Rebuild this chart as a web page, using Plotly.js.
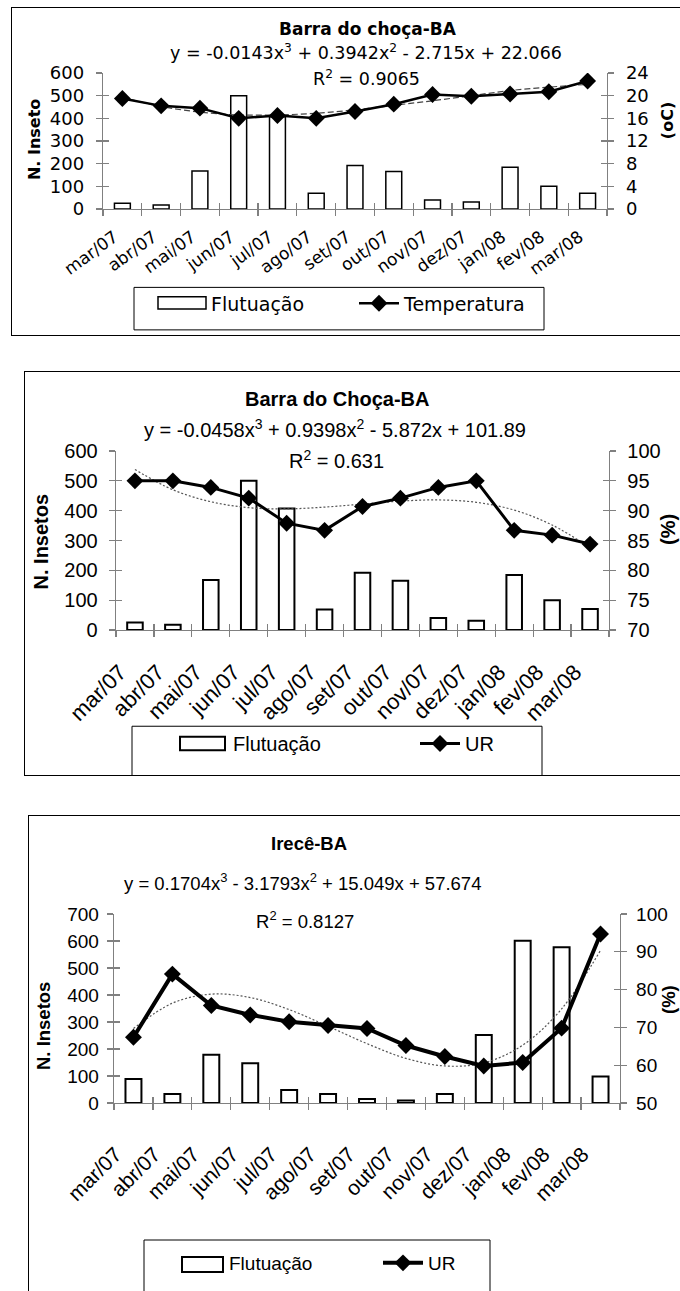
<!DOCTYPE html>
<html>
<head>
<meta charset="utf-8">
<script src="https://cdn.plot.ly/plotly-3.0.1.min.js"></script>
<style>
html,body{margin:0;padding:0;background:#fff;width:680px;height:1291px;overflow:hidden;position:relative;}
.panel{position:absolute;border:1px solid #000;background:#fff;overflow:hidden;}
</style>
</head>
<body>
<div id="w1" class="panel"><div id="p1"></div></div>
<div id="w2" class="panel"><div id="p2"></div></div>
<div id="w3" class="panel"><div id="p3"></div></div>
<script>
// ---- data ----
const months = ['mar/07','abr/07','mai/07','jun/07','jul/07','ago/07','set/07','out/07','nov/07','dez/07','jan/08','fev/08','mar/08'];
const barraInsetos = [25,18,168,500,407,69,192,165,40,31,184,100,70];
const barraTemperatura = [19.5,18.2,17.8,16.0,16.5,16.0,17.2,18.5,20.2,19.9,20.3,20.7,22.6];
const barraTempTendencia = [19.7,18.1,17.1,16.6,16.6,16.9,17.5,18.3,19.1,20.0,20.9,21.5,22.0];
const barraUR = [95.0,95.0,93.9,92.1,87.9,86.7,90.7,92.1,93.9,95.0,86.7,85.9,84.4];
const barraURTendencia = [96.9,93.5,91.5,90.5,90.3,90.6,91.1,91.6,91.8,91.4,90.1,87.6,83.8];
const ireceInsetos = [89,33,179,147,48,33,15,9,33,252,601,577,98];
const ireceUR = [67.4,84.1,75.8,73.3,71.5,70.5,69.7,65.2,62.3,59.8,60.7,69.8,94.7];
const ireceURTendencia = [69.7,76.4,78.8,77.9,74.7,70.3,65.7,61.8,59.8,60.6,65.3,74.9,90.4];

const titles = ['Barra do choça-BA','Barra do Choça-BA','Irecê-BA'];
const equations = [
  'y = -0.0143x<sup>3</sup> + 0.3942x<sup>2</sup> - 2.715x + 22.066',
  'y = -0.0458x<sup>3</sup> + 0.9398x<sup>2</sup> - 5.872x + 101.89',
  'y = 0.1704x<sup>3</sup> - 3.1793x<sup>2</sup> + 15.049x + 57.674'
];
const r2Labels = ['R<sup>2</sup> = 0.9065','R<sup>2</sup> = 0.631','R<sup>2</sup> = 0.8127'];
const leftTitles = ['N. Inseto','N. Insetos','N. Insetos'];
const rightTitles = ['(oC)','(%)','(%)'];
const barName = 'Flutuação';
const lineNames = ['Temperatura','UR','UR'];

const GRAY = '#808080';

function panel(c){
  const L=c.plot[0], R=c.plot[1], T=c.plot[2], B=c.plot[3];
  const ox=c.box[0]+1, oy=c.box[1]+1;
  const fx=x=>(x-L)/(R-L), fy=y=>(B-y)/(B-T);
  const wrap=document.getElementById(c.wrap);
  wrap.style.left=c.box[0]+'px'; wrap.style.top=c.box[1]+'px';
  wrap.style.width=c.w+'px'; wrap.style.height=c.h+'px';
  const nulls=c.x.map(()=>null);
  const data=[
    {type:'bar',x:c.x,y:c.bars,name:barName,xaxis:'x',yaxis:'y',showlegend:false,
     marker:{color:'#ffffff',line:{color:'#000',width:c.barLine}}},
    // legend entry for the bars (its symbol is drawn as a wide box shape below)
    {type:'bar',x:c.x,y:nulls,name:barName,xaxis:'x',yaxis:'y',
     marker:{color:'rgba(0,0,0,0)',line:{color:'rgba(0,0,0,0)',width:0}}},
    {type:'scatter',mode:'lines',x:c.x,y:c.trend,xaxis:'x',yaxis:'y2',showlegend:false,
     line:{color:c.trendColor,width:1.2,dash:c.trendDash,shape:'spline'}},
    {type:'scatter',mode:'lines+markers',x:c.x,y:c.line,name:c.lineName,xaxis:'x',yaxis:'y2',
     line:{color:'#000',width:c.lineW},marker:{symbol:'diamond',size:c.mSize,color:'#000'}},
    {type:'scatter',mode:'markers',x:c.x,y:nulls,xaxis:'x2',yaxis:'y3',showlegend:false},
    {type:'scatter',mode:'markers',x:c.x,y:nulls,xaxis:'x2',yaxis:'y4',showlegend:false},
    {type:'scatter',mode:'markers',x:c.x,y:nulls,xaxis:'x3',yaxis:'y3',showlegend:false}
  ];
  const tf={family:c.font,size:c.tickSize,color:'#000'};
  const common={showgrid:false,zeroline:false,fixedrange:true};
  const ann=(x,y,text,font,extra)=>Object.assign({xref:'paper',yref:'paper',x:fx(x),y:fy(y),
     text:text,showarrow:false,font:font,xanchor:'center',yanchor:'middle'},extra||{});
  const catW=(R-L)/c.x.length, sh=c.labelShift/catW;
  const layout={
    width:c.w,height:c.h,autosize:false,
    margin:{l:L-ox,r:ox+c.w-R,t:T-oy,b:oy+c.h-B,pad:0},
    paper_bgcolor:'#fff',plot_bgcolor:'rgba(0,0,0,0)',
    barmode:'overlay',bargap:0.59,
    showlegend:true,
    xaxis:Object.assign({},common,{type:'category',categoryorder:'array',categoryarray:c.x,range:[-0.5,12.5],
      tickson:'boundaries',ticks:'outside',ticklen:6,tickcolor:GRAY,tickwidth:1.2,
      showline:true,linecolor:GRAY,linewidth:1.3,showticklabels:false}),
    xaxis2:Object.assign({},common,{type:'category',categoryorder:'array',categoryarray:c.x,range:[-0.5,12.5],
      overlaying:'x',anchor:'y',tickson:'boundaries',ticks:'inside',ticklen:6,tickcolor:GRAY,tickwidth:1.2,
      showticklabels:false,showline:false}),
    xaxis3:Object.assign({},common,{type:'category',categoryorder:'array',categoryarray:c.x,
      range:[-0.5+sh,12.5+sh],overlaying:'x',anchor:'y',ticks:'',showline:false,
      tickangle:c.xAngle,tickfont:{family:c.font,size:c.xTickSize,color:'#000'},ticklabelstandoff:c.xStandoff}),
    yaxis:Object.assign({},common,{range:c.yRange,tick0:c.yRange[0],dtick:c.yDtick,ticks:'outside',ticklen:6,
      tickcolor:GRAY,tickwidth:1.2,showline:true,linecolor:GRAY,linewidth:1.3,tickfont:tf,ticklabelstandoff:c.yStandoff}),
    yaxis2:Object.assign({},common,{overlaying:'y',side:'right',anchor:'x',range:c.y2Range,tick0:c.y2Range[0],
      dtick:c.y2Dtick,ticks:'outside',ticklen:6,tickcolor:GRAY,tickwidth:1.2,showline:true,linecolor:GRAY,
      linewidth:1.3,tickfont:tf,ticklabelstandoff:c.y2Standoff}),
    yaxis3:Object.assign({},common,{overlaying:'y',side:'left',anchor:'x',range:c.yRange,tick0:c.yRange[0],
      dtick:c.yDtick,ticks:'inside',ticklen:6,tickcolor:GRAY,tickwidth:1.2,showticklabels:false,showline:false}),
    yaxis4:Object.assign({},common,{overlaying:'y',side:'right',anchor:'x',range:c.y2Range,tick0:c.y2Range[0],
      dtick:c.y2Dtick,ticks:'inside',ticklen:6,tickcolor:GRAY,tickwidth:1.2,showticklabels:false,showline:false}),
    legend:{orientation:'h',x:fx(c.leg[0]),y:fy(c.leg[1]),xanchor:'left',yanchor:'middle',
      borderwidth:0,bgcolor:'rgba(0,0,0,0)',font:{family:c.font,size:c.legSize,color:'#000'},
      entrywidth:c.legEntry,entrywidthmode:'pixels',itemwidth:40,traceorder:'normal'},
    shapes:[
      {type:'rect',xref:'paper',yref:'paper',layer:'below',
       x0:fx(c.legBox[0]),x1:fx(c.legBox[1]),y0:fy(c.legBox[2]),y1:fy(c.legBox[3]),
       line:{color:'#000',width:1},fillcolor:'#fff'},
      {type:'rect',xref:'paper',yref:'paper',layer:'above',
       x0:fx(c.legSym[0]),x1:fx(c.legSym[1]),y0:fy(c.legSym[2]),y1:fy(c.legSym[3]),
       line:{color:'#000',width:c.barLine},fillcolor:'#fff'}
    ],
    annotations:[
      ann(c.tPos[0],c.tPos[1],c.title,{family:c.font,size:c.titleSize,color:'#000',weight:'bold'}),
      ann(c.ePos[0],c.ePos[1],c.eq,{family:c.font,size:c.eqSize,color:'#000'}),
      ann(c.rPos[0],c.rPos[1],c.r2,{family:c.font,size:c.eqSize,color:'#000'}),
      ann(c.lPos[0],c.lPos[1],c.lTitle,{family:c.font,size:c.axSize,color:'#000',weight:'bold'},{textangle:-90}),
      ann(c.rtPos[0],c.rtPos[1],c.rTitle,{family:c.font,size:c.axSize,color:'#000',weight:'bold'},{textangle:-90})
    ]
  };
  Plotly.newPlot(c.div,data,layout,{staticPlot:true,displayModeBar:false});
}

const F1='DejaVu Sans, Verdana, sans-serif';
const F2='Liberation Sans, Arial, sans-serif';

panel({wrap:'w1',div:'p1',box:[11,7],w:700,h:327,plot:[103,607,73,217],
  x:months,bars:barraInsetos,line:barraTemperatura,trend:barraTempTendencia,lineName:lineNames[0],
  yRange:[0,600],yDtick:100,y2Range:[0,24],y2Dtick:4,
  font:F1,tickSize:18,xTickSize:17,xAngle:-36,xStandoff:14,labelShift:8,yStandoff:8,y2Standoff:8,
  barLine:1.5,lineW:2.5,mSize:13,trendColor:'#444',trendDash:'6px,3px',
  title:titles[0],eq:equations[0],r2:r2Labels[0],lTitle:leftTitles[0],rTitle:rightTitles[0],
  titleSize:17,eqSize:17.5,axSize:16,legSize:19,
  tPos:[368,26],ePos:[366,51],rPos:[366,78],lPos:[34,144],rtPos:[667,124],
  leg:[161,317],legEntry:138,legBox:[134,544,300,345],legSym:[158,206,310,323]});

panel({wrap:'w2',div:'p2',box:[24,371],w:700,h:403,plot:[116,609,451,637],
  x:months,bars:barraInsetos,line:barraUR,trend:barraURTendencia,lineName:lineNames[1],
  yRange:[0,600],yDtick:100,y2Range:[70,100],y2Dtick:5,
  font:F2,tickSize:20,xTickSize:22,xAngle:-45,xStandoff:24,labelShift:15,yStandoff:7,y2Standoff:7,
  barLine:2,lineW:3,mSize:13,trendColor:'#555',trendDash:'2px,2px',
  title:titles[1],eq:equations[1],r2:r2Labels[1],lTitle:leftTitles[1],rTitle:rightTitles[1],
  titleSize:20,eqSize:20,axSize:20,legSize:20,
  tPos:[337,397],ePos:[335,428],rPos:[336,460],lPos:[41,545],rtPos:[668,533],
  leg:[183,755],legEntry:177,legBox:[132,542,737,790],legSym:[180,225,748,762]});

panel({wrap:'w3',div:'p3',box:[28,815],w:700,h:500,plot:[114,620,914,1103],
  x:months,bars:ireceInsetos,line:ireceUR,trend:ireceURTendencia,lineName:lineNames[2],
  yRange:[0,700],yDtick:100,y2Range:[50,100],y2Dtick:10,
  font:F2,tickSize:19,xTickSize:21,xAngle:-45,xStandoff:34,labelShift:18,yStandoff:4,y2Standoff:5,
  barLine:2,lineW:4,mSize:13,trendColor:'#555',trendDash:'2px,2px',
  title:titles[2],eq:equations[2],r2:r2Labels[2],lTitle:leftTitles[2],rTitle:rightTitles[2],
  titleSize:18.5,eqSize:18.5,axSize:18.5,legSize:19,
  tPos:[309,843],ePos:[302,882],rPos:[305,920],lPos:[43,1026],rtPos:[668,1000],
  leg:[179,1263],legEntry:144,legBox:[144,490,1240,1320],legSym:[182,223,1257,1272]});
</script>
</body>
</html>
